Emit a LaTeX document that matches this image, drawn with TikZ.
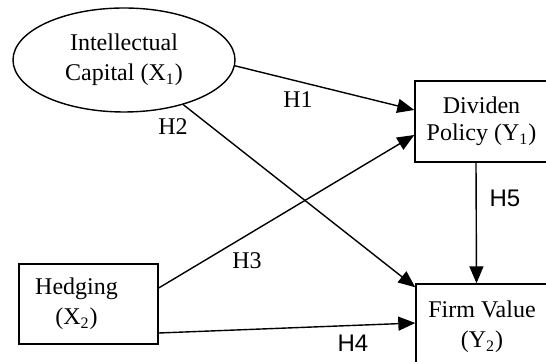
\documentclass[tikz,border=0pt]{standalone}
\usepackage{fontspec}
\setmainfont{Liberation Serif}
\newfontfamily\hsans{Liberation Sans}
\usetikzlibrary{shapes.geometric,arrows.meta}
\tikzset{
  var/.style={draw,rectangle,line width=0.7pt,inner sep=0pt,align=center,font=\fontsize{12}{15}\selectfont},
  hyp/.style={font=\fontsize{12}{14}\selectfont,inner sep=0pt},
  path/.style={line width=0.7pt,-{Triangle[length=8.5pt,width=7pt]}},
}
\begin{document}
\begin{tikzpicture}[x=0.5pt,y=-0.5pt]
	\useasboundingbox (0,0) rectangle (546,362);
	\clip (0,0) rectangle (546,362);
	\node[var,ellipse,minimum width=111pt,minimum height=52pt] (ic) at (124,60) {Intellectual\\Capital (X\textsubscript{1})};
	\node[var,minimum width=66.5pt,minimum height=40.5pt,font=\fontsize{12}{13.5}\selectfont] (dp) at (481.5,121.5) {Dividen\\Policy (Y\textsubscript{1})};
	\node[var,minimum width=69.5pt,minimum height=40pt] (hd) at (88.5,304) {Hedging\hspace*{12pt}\\(X\textsubscript{2})\hspace*{12pt}};
	\node[var,minimum width=66pt,minimum height=43pt] (fv) at (482,327) {Firm Value\\(Y\textsubscript{2})};
	%
	\draw[path] (ic.-3) -- ([yshift=5.75pt]dp.west);
	\draw[path] (ic.-37) -- ([yshift=-2pt]fv.north west);
	%
	\draw[path] ([yshift=8pt]hd.east) -- ([yshift=-6.75pt]dp.west);
	\draw[path] ([yshift=-14.5pt]hd.east) -- ([yshift=2pt]fv.west);
	%
	\draw[path] ([xshift=-2.75pt]dp.south) -- ([xshift=-2.75pt]fv.north);
	%
	\node[hyp] (h1) at (298,100) {H1};
	\node[hyp] (h2) at (173,127) {H2};
	\node[hyp] (h3) at (247,261) {H3};
	\node[hyp,font=\hsans\fontsize{12}{14}\selectfont] (h4) at (353,343) {H4};
	\node[hyp,font=\hsans\fontsize{12}{14}\selectfont] (h5) at (505,198) {H5};
\end{tikzpicture}
\end{document}
